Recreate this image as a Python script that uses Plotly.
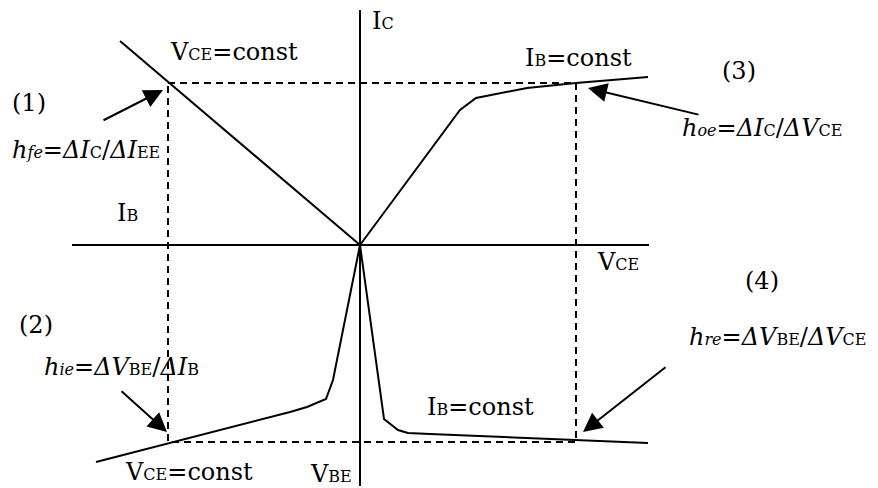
import plotly.graph_objects as go

# ---- data (diagram units: origin at axes crossing, y up) ----
h_axis_u = [-288, 289]
h_axis_v = [0, 0]
v_axis_u = [0, 0]
v_axis_v = [235, -241]

# (1) Ic vs Ib, VCE = const
q1_u = [-240, 0]
q1_v = [204, 0]
# (3) Ic vs VCE, IB = const
q3_u = [0, 100, 116, 167, 216, 288]
q3_v = [0, 135, 147, 157, 162, 168]
# (2) VBE vs IB, VCE = const
q2_u = [0, -27, -34, -53, -70, -192, -264]
q2_v = [0, -135, -154, -162, -167, -198, -217]
# (4) VBE vs VCE, IB = const
q4_u = [0, 24, 38, 48, 70, 216, 288]
q4_v = [0, -174, -185, -188, -189, -195, -198]

# dashed operating-point rectangle
rect_u = [-192, 216, 216, -192, -192]
rect_v = [162, 162, -197, -197, 162]

# arrows: (tail_u, tail_v, tip_u, tip_v)
arrow_tail_u = [-258, 340, -240, 307]
arrow_tail_v = [124, 130, -145, -121]
arrow_tip_u = [-197, 228, -193, 223]
arrow_tip_v = [155, 157, -187, -187]

S = "<span style='font-size:16px'>{}</span>"
labels = [
    "I" + S.format("C"),
    "V" + S.format("CE") + "=const",
    "(1)",
    "<i>h</i><i>" + S.format("fe") + "</i>=<i>ΔI</i>" + S.format("C") + "/<i>ΔI</i>" + S.format("EE"),
    "I" + S.format("B"),
    "I" + S.format("B") + "=const",
    "(3)",
    "<i>h</i><i>" + S.format("oe") + "</i>=<i>ΔI</i>" + S.format("C") + "/<i>ΔV</i>" + S.format("CE"),
    "V" + S.format("CE"),
    "(4)",
    "<i>h</i><i>" + S.format("re") + "</i>=<i>ΔV</i>" + S.format("BE") + "/<i>ΔV</i>" + S.format("CE"),
    "I" + S.format("B") + "=const",
    "(2)",
    "<i>h</i><i>" + S.format("ie") + "</i>=<i>ΔV</i>" + S.format("BE") + "/<i>ΔI</i>" + S.format("B"),
    "V" + S.format("CE") + "=const",
    "V" + S.format("BE"),
]
label_u = [10, -192, -350, -350, -245, 163, 360, 320, 235, 383, 327, 65, -343, -318, -237, -52]
label_v = [224, 193, 142, 95, 32, 187, 174, 117, -17, -36, -92, -162, -80, -122, -227, -229]

FONT = "DejaVu Serif"

fig = go.Figure()
solid = dict(color="black", width=2)
for u, v in [(h_axis_u, h_axis_v), (v_axis_u, v_axis_v), (q1_u, q1_v), (q3_u, q3_v),
             (q2_u, q2_v), (q4_u, q4_v)]:
    fig.add_trace(go.Scatter(x=u, y=v, mode="lines", line=solid, hoverinfo="skip",
                             showlegend=False))
fig.add_trace(go.Scatter(x=rect_u, y=rect_v, mode="lines",
                         line=dict(color="black", width=2, dash="7px,5px"),
                         hoverinfo="skip", showlegend=False))

for tu, tv, hu, hv in zip(arrow_tail_u, arrow_tail_v, arrow_tip_u, arrow_tip_v):
    fig.add_annotation(x=hu, y=hv, ax=tu, ay=tv, xref="x", yref="y", axref="x", ayref="y",
                       text="", showarrow=True, arrowhead=2, arrowsize=1.9, arrowwidth=2,
                       arrowcolor="black", standoff=0)

for t, u, v in zip(labels, label_u, label_v):
    fig.add_annotation(x=u, y=v, xref="x", yref="y", text=t, showarrow=False,
                       xanchor="left", yanchor="middle",
                       font=dict(family=FONT, size=24, color="black"))

# page body has an 8px margin: figure is 870x480 placed at (8, 8)
fig.update_layout(
    width=870, height=480, margin=dict(l=0, r=0, t=0, b=0),
    paper_bgcolor="white", plot_bgcolor="white",
    xaxis=dict(range=[-352, 518], visible=False, fixedrange=True),
    yaxis=dict(range=[-243, 237], visible=False, fixedrange=True),
)
fig.write_html("out.html")
